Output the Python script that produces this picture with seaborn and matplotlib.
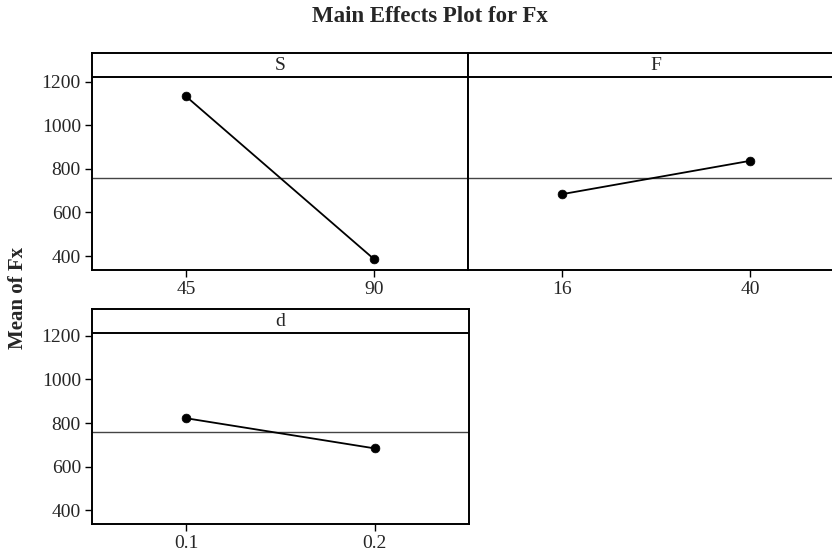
import matplotlib
matplotlib.use("Agg")
import matplotlib.pyplot as plt
import seaborn as sns
import pandas as pd

# data
factors = ["S", "F", "d"]
levels_S = ["45", "90"]
levels_F = ["16", "40"]
levels_d = ["0.1", "0.2"]
means_S = [1133, 386]
means_F = [684, 837]
means_d = [822, 684]
grand_mean = 759
y_ticks = [400, 600, 800, 1000, 1200]

sns.set_style("ticks")
plt.rcParams["font.family"] = ["Liberation Serif", "DejaVu Serif"]
plt.rcParams["axes.linewidth"] = 1.4
plt.rcParams["axes.edgecolor"] = "black"

W, H = 832, 559
fig = plt.figure(figsize=(W / 100, H / 100), dpi=100)


def px_axes(left, top, right, bottom):
    return fig.add_axes([left / W, 1 - bottom / H, (right - left) / W, (bottom - top) / H])


def panel(ax, name, levels, values, ylim, strip_y, show_y):
    df = pd.DataFrame({"level": levels, "mean": values})
    df["pos"] = range(len(levels))
    ax.axhline(grand_mean, color="#444444", lw=1.0, zorder=1)
    sns.lineplot(data=df, x="pos", y="mean", ax=ax, color="black", lw=1.3, zorder=2)
    sns.scatterplot(data=df, x="pos", y="mean", ax=ax, color="black", s=40,
                    edgecolor="black", zorder=3)
    ax.axhline(strip_y, color="black", lw=1.4)
    ax.text(0.5, (strip_y + ylim[1]) / 2, name, ha="center", va="center",
            fontsize=14, transform=ax.get_yaxis_transform())
    ax.set_xlim(-0.5, 1.5)
    ax.set_ylim(*ylim)
    ax.set_xticks(df["pos"])
    ax.set_xticklabels(levels, fontsize=14)
    ax.set_xlabel("")
    ax.set_ylabel("")
    if show_y:
        ax.set_yticks(y_ticks)
        ax.set_yticklabels([str(t) for t in y_ticks], fontsize=14)
    else:
        ax.set_yticks([])
    ax.tick_params(direction="out", length=5, width=1, color="black", pad=3)


ax_S = px_axes(92, 53, 468, 270)
ax_F = px_axes(468, 53, 844, 270)
ax_d = px_axes(92, 309, 469, 524)

panel(ax_S, "S", levels_S, means_S, (336, 1332), 1221, True)
panel(ax_F, "F", levels_F, means_F, (336, 1332), 1221, False)
panel(ax_d, "d", levels_d, means_d, (338, 1322), 1212, True)

fig.text(430 / W, 1 - 17 / H, "Main Effects Plot for Fx", ha="center", va="center",
         fontsize=16.5, fontweight="bold")
fig.text(18 / W, 1 - 298 / H, "Mean of Fx", ha="center", va="center", rotation=90,
         fontsize=15, fontweight="bold")

fig.savefig("out.png", dpi=100)
